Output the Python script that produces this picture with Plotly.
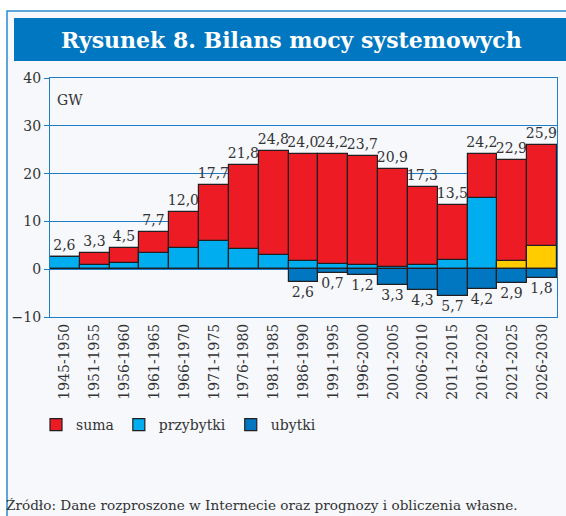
import plotly.graph_objects as go

W, H = 566, 516
L, R, T, B = 50, 9, 78, 199   # plot area margins in px

okresy = ["1945-1950", "1951-1955", "1956-1960", "1961-1965", "1966-1970",
          "1971-1975", "1976-1980", "1981-1985", "1986-1990", "1991-1995",
          "1996-2000", "2001-2005", "2006-2010", "2011-2015", "2016-2020",
          "2021-2025", "2026-2030"]
suma = [2.6, 3.3, 4.5, 7.7, 12.0, 17.7, 21.8, 24.8, 24.0, 24.2,
        23.7, 20.9, 17.3, 13.5, 24.2, 22.9, 25.9]
przybytki = [2.6, 0.8, 1.3, 3.3, 4.4, 5.8, 4.2, 3.0, 1.8, 1.1,
             0.8, 0.5, 0.8, 1.9, 14.9, 1.7, 4.9]
ubytki = [0, 0, 0, 0, 0, 0, 0, 0, 2.6, 0.7,
          1.2, 3.3, 4.3, 5.7, 4.2, 2.9, 1.8]

RED = "#ed1c24"
LBLUE = "#00aeef"
DBLUE = "#0077c0"
YELLOW = "#ffcc00"
EDGE = "#231f20"
TXT = "#333333"
GRID = "#1f7cc6"
FONT = "DejaVu Serif"


def fmt(v):
    return f"{v:.1f}".replace(".", ",")


def px_x(x):
    return (x - L) / (W - L - R)


def px_y(y):
    return (H - B - y) / (H - T - B)


# prognoza (2021+) drawn in yellow
kolory_przyb = [YELLOW if int(o[:4]) >= 2021 else LBLUE for o in okresy]

fig = go.Figure()
fig.add_trace(go.Bar(
    x=okresy, y=suma, name="suma",
    marker=dict(color=RED, line=dict(color=EDGE, width=1.2)),
    text=[fmt(v) for v in suma], textposition="outside",
    constraintext="none", cliponaxis=False,
    textfont=dict(family=FONT, size=14, color=TXT),
    width=1,
))
fig.add_trace(go.Bar(
    x=okresy, y=przybytki, name="przybytki",
    marker=dict(color=kolory_przyb, line=dict(color=EDGE, width=1.2)),
    width=1,
))
fig.add_trace(go.Bar(
    x=okresy, y=[-v for v in ubytki], name="ubytki",
    marker=dict(color=DBLUE, line=dict(color=EDGE, width=1.2)),
    text=[fmt(v) if v else "" for v in ubytki], textposition="outside",
    constraintext="none", cliponaxis=False,
    textfont=dict(family=FONT, size=14, color=TXT),
    width=1,
))

shapes = [
    # outer frame
    dict(type="rect", xref="paper", yref="paper", layer="below",
         x0=px_x(7), x1=px_x(620), y0=px_y(600), y1=px_y(11),
         fillcolor="#f6f8fc", line=dict(color="#2a8ad0", width=1.5)),
    # title bar
    dict(type="rect", xref="paper", yref="paper", layer="below",
         x0=px_x(14), x1=px_x(620), y0=px_y(61), y1=px_y(18),
         fillcolor=DBLUE, line=dict(width=0)),
]

annotations = [
    dict(text="<b>Rysunek 8. Bilans mocy systemowych</b>",
         xref="paper", yref="paper", x=px_x(291), y=px_y(40),
         xanchor="center", yanchor="middle", showarrow=False,
         font=dict(family=FONT, size=22, color="white")),
    dict(text="GW", xref="paper", yref="paper", x=px_x(55), y=px_y(100),
         xanchor="left", yanchor="middle", showarrow=False,
         font=dict(family=FONT, size=14, color=TXT)),
    dict(text="Źródło: Dane rozproszone w Internecie oraz prognozy i obliczenia własne.",
         xref="paper", yref="paper", x=px_x(4), y=px_y(505),
         xanchor="left", yanchor="middle", showarrow=False,
         font=dict(family=FONT, size=13.6, color=TXT)),
]

fig.update_layout(
    width=W, height=H,
    margin=dict(l=L, r=R, t=T, b=B),
    paper_bgcolor="white",
    plot_bgcolor="rgba(0,0,0,0)",
    barmode="overlay",
    bargap=0,
    font=dict(family=FONT, size=14, color=TXT),
    shapes=shapes,
    annotations=annotations,
    showlegend=True,
    legend=dict(orientation="h", x=px_x(36), y=px_y(425),
                xanchor="left", yanchor="middle",
                bgcolor="rgba(0,0,0,0)",
                font=dict(family=FONT, size=14, color=TXT)),
    xaxis=dict(
        tickangle=-90, showgrid=False, ticks="",
        showline=True, linecolor=GRID, mirror=True, linewidth=1.3,
        tickfont=dict(family=FONT, size=14, color=TXT),
    ),
    yaxis=dict(
        range=[-10, 40], dtick=10, showgrid=True, gridcolor=GRID,
        gridwidth=1.3, zeroline=False,
        showline=True, linecolor=GRID, mirror=True, linewidth=1.3,
        ticks="outside", ticklen=5, tickcolor=GRID,
        tickfont=dict(family=FONT, size=14, color=TXT),
    ),
)

# drop the default page margin so the figure sits at the window's corner
fig.write_html("out.html", config={"displayModeBar": False},
               post_script="document.body.style.margin='0';")
